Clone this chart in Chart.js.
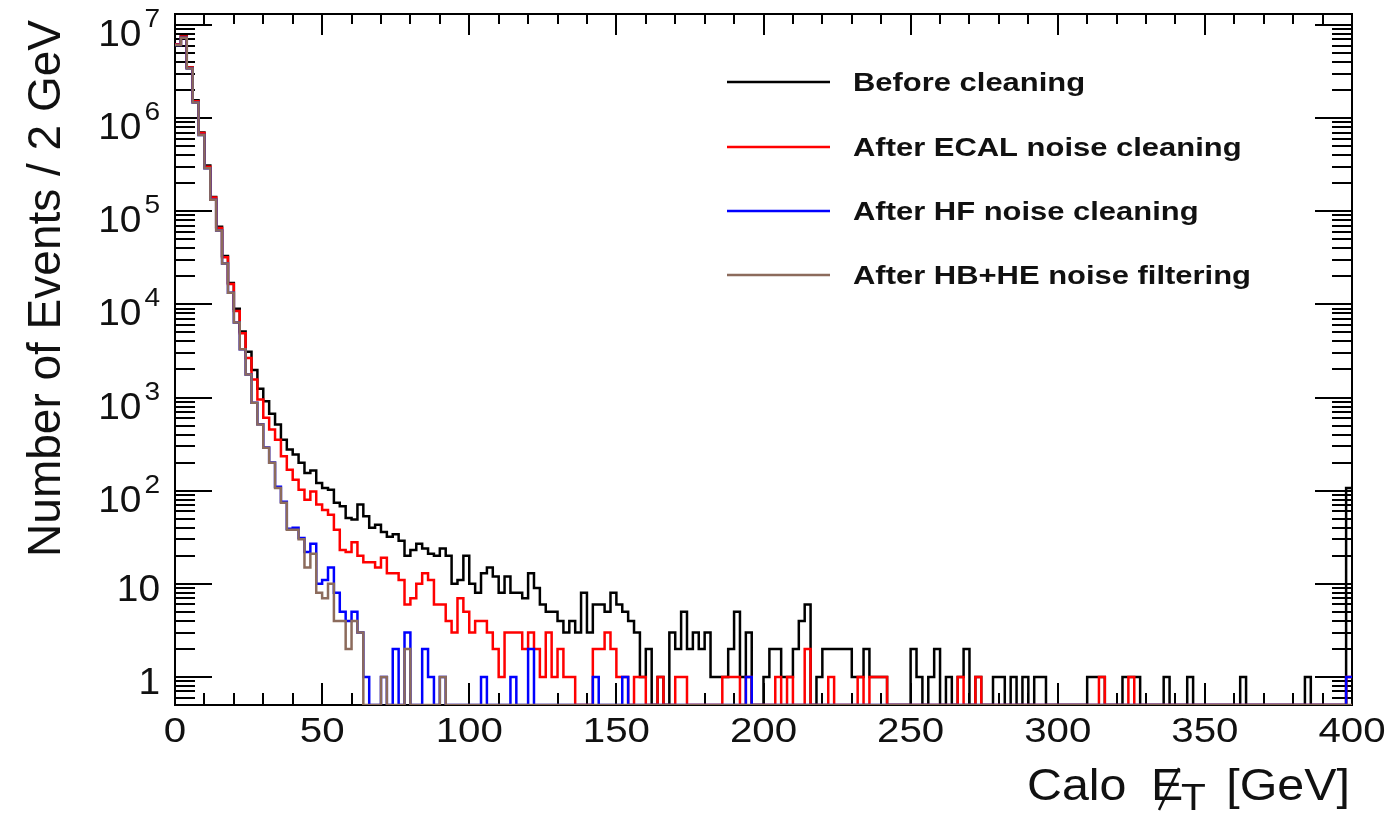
<!DOCTYPE html>
<html>
<head>
<meta charset="utf-8">
<script src="https://cdn.jsdelivr.net/npm/chart.js@4.4.0/dist/chart.umd.min.js"></script>
<style>
  body { margin: 0; background: #fff; }
  #wrap { width: 1395px; height: 813px; }
</style>
</head>
<body>
<div id="wrap"><canvas id="metChart" width="1395" height="813"></canvas></div>
<script>
// Calo MET distribution, 2 GeV bins from 0 to 400 GeV (200 bins)
const binWidth = 2;
const xTicks = [0, 50, 100, 150, 200, 250, 300, 350, 400];
const yExponents = [0, 1, 2, 3, 4, 5, 6, 7];
const seriesLabels = ["Before cleaning", "After ECAL noise cleaning", "After HF noise cleaning", "After HB+HE noise filtering"];
const seriesColors = ["#000000", "#ff0000", "#0000ff", "#8c6b5c"];

const beforeCleaning = [
  6.2e6, 7.6e6, 3.5e6, 1.55e6, 7.0e5, 3.1e5, 1.42e5, 6.8e4, 3.3e4, 1.7e4,
  9000, 5100, 3100, 1970, 1240, 910, 670, 513, 353, 276,
  244, 199, 155, 165, 121, 107, 102, 74, 68, 51,
  49, 71, 53, 40, 43, 36, 32, 34, 29, 20,
  23, 27, 24, 21, 20, 24, 20, 10, 11, 20,
  10, 8, 13, 15, 12, 8, 12, 8, 8, 7,
  13, 9, 6, 5, 5, 4, 3, 4, 3, 8,
  3, 6, 6, 5, 8, 6, 5, 4, 3, 1,
  2, 0, 1, 0, 3, 2, 5, 2, 3, 2,
  3, 1, 1, 1, 2, 5, 1, 3, 0, 0,
  1, 2, 2, 1, 1, 2, 4, 6, 0, 1,
  2, 2, 2, 2, 2, 1, 1, 2, 1, 1,
  1, 0, 0, 0, 0, 2, 1, 0, 1, 2,
  0, 1, 0, 1, 2, 0, 1, 0, 0, 1,
  1, 0, 1, 0, 1, 0, 1, 1, 0, 0,
  0, 0, 0, 0, 0, 1, 1, 1, 0, 0,
  0, 1, 1, 1, 0, 0, 0, 0, 1, 0,
  0, 0, 1, 0, 0, 0, 0, 0, 0, 0,
  0, 1, 0, 0, 0, 0, 0, 0, 0, 0,
  0, 0, 1, 0, 0, 0, 0, 0, 0, 107
];

const afterEcal = [
  6.2e6, 7.5e6, 3.5e6, 1.52e6, 6.9e5, 3.0e5, 1.4e5, 6.6e4, 3.2e4, 1.65e4,
  8500, 4900, 2650, 1560, 950, 605, 453, 353, 234, 168,
  131, 102, 80, 98, 71, 62, 55, 38, 23, 22,
  28, 20, 17, 17, 15, 19, 13, 13, 11, 6,
  7, 10, 13, 11, 6, 6, 4, 3, 7, 5,
  3, 4, 4, 3, 2, 1, 3, 3, 3, 2,
  3, 2, 1, 3, 1, 2, 1, 1, 0, 0,
  0, 2, 2, 3, 2, 1, 1, 0, 1, 1,
  0, 0, 1, 0, 0, 1, 1, 0, 0, 0,
  0, 0, 0, 1, 1, 1, 0, 1, 0, 0,
  0, 0, 1, 0, 1, 0, 0, 2, 0, 0,
  0, 1, 0, 0, 0, 0, 1, 0, 1, 1,
  1, 0, 0, 0, 0, 0, 0, 0, 0, 0,
  0, 0, 0, 1, 0, 0, 1, 0, 0, 0,
  0, 0, 0, 0, 0, 0, 0, 0, 0, 0,
  0, 0, 0, 0, 0, 0, 0, 1, 0, 0,
  0, 0, 1, 0, 0, 0, 0, 0, 0, 0,
  0, 0, 0, 0, 0, 0, 0, 0, 0, 0,
  0, 0, 0, 0, 0, 0, 0, 0, 0, 0,
  0, 0, 0, 0, 0, 0, 0, 0, 0, 1
];

const afterHF = [
  6.1e6, 7.3e6, 3.4e6, 1.47e6, 6.6e5, 2.9e5, 1.33e5, 6.2e4, 2.75e4, 1.33e4,
  6400, 3300, 1770, 880, 515, 290, 200, 110, 76, 39,
  40, 31, 22, 27, 10, 11, 15, 8, 5, 4,
  5, 3, 1, 0, 0, 1, 0, 2, 0, 3,
  0, 0, 2, 1, 0, 1, 0, 0, 0, 0,
  0, 0, 1, 0, 0, 0, 0, 1, 0, 0,
  2, 0, 0, 0, 0, 0, 0, 0, 0, 0,
  0, 1, 0, 0, 0, 0, 1, 0, 0, 0,
  0, 0, 0, 0, 0, 0, 0, 0, 0, 0,
  0, 0, 0, 0, 0, 0, 0, 1, 0, 0,
  0, 0, 0, 0, 0, 0, 0, 0, 0, 0,
  0, 0, 0, 0, 0, 0, 0, 0, 0, 0,
  0, 0, 0, 0, 0, 0, 0, 0, 0, 0,
  0, 0, 0, 0, 0, 0, 0, 0, 0, 0,
  0, 0, 0, 0, 0, 0, 0, 0, 0, 0,
  0, 0, 0, 0, 0, 0, 0, 0, 0, 0,
  0, 0, 0, 0, 0, 0, 0, 0, 0, 0,
  0, 0, 0, 0, 0, 0, 0, 0, 0, 0,
  0, 0, 0, 0, 0, 0, 0, 0, 0, 0,
  0, 0, 0, 0, 0, 0, 0, 0, 0, 1
];

const afterHBHE = [
  6.1e6, 7.3e6, 3.4e6, 1.47e6, 6.6e5, 2.9e5, 1.33e5, 6.2e4, 2.75e4, 1.33e4,
  6400, 3300, 1770, 877, 512, 288, 199, 107, 74, 38,
  38, 30, 15, 21, 8, 7, 10, 4, 4, 2,
  4, 3, 0, 0, 0, 1, 0, 0, 0, 2,
  0, 0, 0, 0, 0, 1, 0, 0, 0, 0,
  0, 0, 0, 0, 0, 0, 0, 0, 0, 0,
  0, 0, 0, 0, 0, 0, 0, 0, 0, 0,
  0, 0, 0, 0, 0, 0, 0, 0, 0, 0,
  0, 0, 0, 0, 0, 0, 0, 0, 0, 0,
  0, 0, 0, 0, 0, 0, 0, 0, 0, 0,
  0, 0, 0, 0, 0, 0, 0, 0, 0, 0,
  0, 0, 0, 0, 0, 0, 0, 0, 0, 0,
  0, 0, 0, 0, 0, 0, 0, 0, 0, 0,
  0, 0, 0, 0, 0, 0, 0, 0, 0, 0,
  0, 0, 0, 0, 0, 0, 0, 0, 0, 0,
  0, 0, 0, 0, 0, 0, 0, 0, 0, 0,
  0, 0, 0, 0, 0, 0, 0, 0, 0, 0,
  0, 0, 0, 0, 0, 0, 0, 0, 0, 0,
  0, 0, 0, 0, 0, 0, 0, 0, 0, 0,
  0, 0, 0, 0, 0, 0, 0, 0, 0, 0
];

const Y_MIN = 0.5;
const Y_MAX = 1.31e7;
const FONT = '"Liberation Sans", Arial, Helvetica, sans-serif';

// histogram -> step points at bin edges, empty bins sit on the frame
function histPoints(counts) {
  const pts = counts.map((c, i) => ({ x: i * binWidth, y: c > 0 ? c : Y_MIN }));
  const last = counts[counts.length - 1];
  pts.push({ x: counts.length * binWidth, y: last > 0 ? last : Y_MIN });
  return pts;
}

function stretchedText(ctx, text, x, y, sx, align) {
  ctx.save();
  ctx.translate(x, y);
  ctx.scale(sx, 1);
  ctx.textAlign = align;
  ctx.fillText(text, 0, 0);
  ctx.restore();
}

const framePlugin = {
  id: "rootFrame",
  beforeDatasetsDraw(chart) {
    const { ctx, chartArea: a, scales } = chart;
    const xs = scales.x, ys = scales.y;
    ctx.save();
    ctx.strokeStyle = "#000";
    ctx.lineWidth = 2;
    ctx.strokeRect(a.left, a.top, a.right - a.left, a.bottom - a.top);
    ctx.beginPath();
    // x ticks, bottom and top, pointing inward
    for (let v = 0; v <= 400; v += 10) {
      const px = Math.round(xs.getPixelForValue(v));
      const major = v % 50 === 0;
      const lb = major ? 22 : 12;
      const lt = major ? 21 : 10;
      ctx.moveTo(px, a.bottom); ctx.lineTo(px, a.bottom - lb);
      ctx.moveTo(px, a.top); ctx.lineTo(px, a.top + lt);
    }
    // y ticks, left and right
    for (let e = -1; e <= 7; e++) {
      for (let m = 1; m <= 9; m++) {
        const v = m * Math.pow(10, e);
        if (v < Y_MIN || v > Y_MAX) continue;
        const py = Math.round(ys.getPixelForValue(v));
        const len = m === 1 ? 37 : 20;
        ctx.moveTo(a.left, py); ctx.lineTo(a.left + len, py);
        ctx.moveTo(a.right, py); ctx.lineTo(a.right - len, py);
      }
    }
    ctx.stroke();
    ctx.restore();
  },
  afterDraw(chart) {
    const { ctx, scales } = chart;
    const xs = scales.x, ys = scales.y;
    ctx.save();
    ctx.fillStyle = "#111";
    ctx.textBaseline = "alphabetic";

    // x tick labels
    ctx.font = "35px " + FONT;
    xTicks.forEach(v => {
      stretchedText(ctx, String(v), xs.getPixelForValue(v), 742, 1.15, "center");
    });

    // y tick labels, powers of ten
    yExponents.forEach(e => {
      const py = ys.getPixelForValue(Math.pow(10, e));
      const right = 160;
      if (e === 0 || e === 1) {
        ctx.font = "36px " + FONT;
        stretchedText(ctx, e === 0 ? "1" : "10", right, py + 17, 1.08, "right");
      } else {
        ctx.font = "26px " + FONT;
        const ew = ctx.measureText(String(e)).width * 1.08;
        stretchedText(ctx, String(e), right, py + 2, 1.08, "right");
        ctx.font = "36px " + FONT;
        stretchedText(ctx, "10", right - ew - 3, py + 21, 1.08, "right");
      }
    });

    // y title
    ctx.save();
    ctx.translate(60, 20);
    ctx.rotate(-Math.PI / 2);
    ctx.font = "46px " + FONT;
    ctx.textAlign = "right";
    ctx.fillText("Number of Events / 2 GeV", 0, 0);
    ctx.restore();

    // x title: Calo MET [GeV]
    ctx.font = "44px " + FONT;
    stretchedText(ctx, "Calo", 1027, 800, 1.1, "left");
    stretchedText(ctx, "E", 1151, 800, 1.1, "left");
    ctx.font = "37px " + FONT;
    stretchedText(ctx, "T", 1181, 810, 1.1, "left");
    ctx.font = "44px " + FONT;
    stretchedText(ctx, "[GeV]", 1350, 800, 1.1, "right");
    ctx.strokeStyle = "#111";
    ctx.lineWidth = 2.5;
    ctx.beginPath();
    ctx.moveTo(1159, 810);
    ctx.lineTo(1179, 768);
    ctx.stroke();

    // legend
    const rows = [82, 147, 211, 275];
    chart.data.datasets.forEach((ds, i) => {
      ctx.strokeStyle = ds.borderColor;
      ctx.lineWidth = 2.5;
      ctx.beginPath();
      ctx.moveTo(727, rows[i]);
      ctx.lineTo(830, rows[i]);
      ctx.stroke();
      ctx.fillStyle = "#111";
      ctx.font = "bold 26px " + FONT;
      stretchedText(ctx, ds.label, 853, rows[i] + 9, 1.19, "left");
    });
    ctx.restore();
  }
};

const allSeries = [beforeCleaning, afterEcal, afterHF, afterHBHE];

new Chart(document.getElementById("metChart"), {
  type: "line",
  data: {
    datasets: allSeries.map((counts, i) => ({
      label: seriesLabels[i],
      data: histPoints(counts),
      borderColor: seriesColors[i],
      borderWidth: 2.5,
      stepped: "before",
      pointRadius: 0,
      fill: false,
      order: 4 - i
    }))
  },
  options: {
    responsive: false,
    animation: false,
    layout: { padding: { top: 14, right: 43, left: 0, bottom: 0 } },
    plugins: {
      legend: { display: false },
      tooltip: { enabled: false }
    },
    scales: {
      x: {
        type: "linear",
        min: 0,
        max: 400,
        ticks: { display: false },
        grid: { display: false, drawTicks: false },
        border: { display: false },
        afterFit: s => { s.height = 108; }
      },
      y: {
        type: "logarithmic",
        min: Y_MIN,
        max: Y_MAX,
        ticks: { display: false },
        grid: { display: false, drawTicks: false },
        border: { display: false },
        afterFit: s => { s.width = 175; }
      }
    }
  },
  plugins: [framePlugin]
});
</script>
</body>
</html>
